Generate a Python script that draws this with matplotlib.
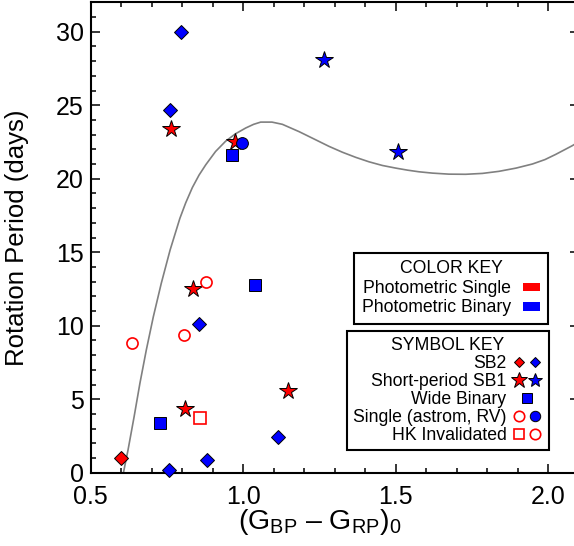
import matplotlib
matplotlib.use('Agg')
import matplotlib.pyplot as plt
import matplotlib.transforms as mtransforms
from matplotlib.lines import Line2D
from matplotlib.patches import Patch
from matplotlib.legend_handler import HandlerTuple
from matplotlib.ticker import MultipleLocator

plt.rcParams['font.family'] = ['Liberation Sans', 'DejaVu Sans']
plt.rcParams['mathtext.fontset'] = 'custom'
plt.rcParams['mathtext.rm'] = 'Liberation Sans'
plt.rcParams['mathtext.it'] = 'Liberation Sans:italic'

# SB2 (diamonds)
sb2_red_x = [0.601]
sb2_red_p = [0.98]
sb2_blue_x = [0.796, 0.760, 0.856, 1.116, 0.881, 0.757]
sb2_blue_p = [30.0, 24.7, 10.1, 2.45, 0.86, 0.18]

# short-period SB1 (stars)
sb1_red_x = [0.765, 0.974, 0.837, 1.148, 0.809]
sb1_red_p = [23.4, 22.5, 12.5, 5.56, 4.3]
sb1_blue_x = [1.266, 1.508]
sb1_blue_p = [28.1, 21.8]

# wide binaries (squares)
wide_x = [0.963, 1.038, 0.727]
wide_p = [21.6, 12.8, 3.4]

# single, blue filled circle
single_x = [0.998]
single_p = [22.4]

# HK invalidated (open red)
hk_circ_x = [0.878, 0.807, 0.635]
hk_circ_p = [13.0, 9.4, 8.85]
hk_sq_x = [0.859]
hk_sq_p = [3.7]

# gray curve
curve_x = [0.608, 0.623, 0.643, 0.662, 0.683, 0.706, 0.732, 0.761, 0.793, 0.812,
           0.834, 0.856, 0.878, 0.910, 0.943, 0.975, 1.009, 1.035, 1.058, 1.095,
           1.129, 1.151, 1.184, 1.238, 1.282, 1.326, 1.370, 1.413, 1.457, 1.501,
           1.540, 1.577, 1.621, 1.675, 1.730, 1.785, 1.839, 1.895, 1.949, 1.990,
           2.025, 2.080, 2.120]
curve_p = [0.0, 1.54, 3.81, 6.08, 8.35, 10.61, 12.88, 15.15, 17.3, 18.35,
           19.4, 20.25, 20.95, 21.85, 22.55, 23.05, 23.45, 23.7, 23.85, 23.85,
           23.7, 23.5, 23.2, 22.65, 22.2, 21.8, 21.45, 21.15, 20.9, 20.72,
           20.58, 20.47, 20.38, 20.31, 20.3, 20.36, 20.5, 20.72, 21.0, 21.3,
           21.65, 22.25, 22.75]

fig = plt.figure(figsize=(5.74, 5.46), dpi=100)
ax = fig.add_axes([90.5 / 574, 73.3 / 546, 488 / 574, 470.4 / 546])

ax.plot(curve_x, curve_p, color='#808080', lw=1.2, zorder=1)

ek = dict(markeredgecolor='black', markeredgewidth=0.7, ls='none', clip_on=False, zorder=3)
ax.plot(sb2_red_x, sb2_red_p, marker='D', ms=7, color='red', **ek)
ax.plot(sb2_blue_x, sb2_blue_p, marker='D', ms=7, color='blue', **ek)
ax.plot(wide_x, wide_p, marker='s', ms=8.3, color='blue', **ek)
ax.plot(sb1_red_x, sb1_red_p, marker='*', ms=13, color='red', **ek)
ax.plot(sb1_blue_x, sb1_blue_p, marker='*', ms=13, color='blue', **ek)
ax.plot(single_x, single_p, marker='o', ms=8.5, color='blue', **ek)
ax.plot(hk_circ_x, hk_circ_p, marker='o', ms=8, ls='none', mfc='none', mec='red',
        mew=1.2, clip_on=False, zorder=3)
ax.plot(hk_sq_x, hk_sq_p, marker='s', ms=8, ls='none', mfc='none', mec='red',
        mew=1.2, clip_on=False, zorder=3)

ax.set_xlim(0.5, 2.1)
ax.set_ylim(0, 32)
ax.xaxis.set_major_locator(MultipleLocator(0.5))
ax.xaxis.set_minor_locator(MultipleLocator(0.1))
ax.yaxis.set_major_locator(MultipleLocator(5))
ax.yaxis.set_minor_locator(MultipleLocator(1))
ax.xaxis.set_major_formatter(plt.FuncFormatter(lambda v, p: '%.1f' % v))
ax.tick_params(which='both', direction='in', top=True, right=True, width=1.1, labelsize=18)
ax.tick_params(which='major', length=6.5)
ax.tick_params(which='minor', length=3.6)
ax.tick_params(axis='x', pad=9)
ax.tick_params(axis='y', pad=5)
for s in ax.spines.values():
    s.set_linewidth(1.5)

ax.set_ylabel('Rotation Period (days)', fontsize=18.5)
ax.set_xlabel('(G$_\\mathrm{BP}$ \u2013 G$_\\mathrm{RP}$)$_0$', fontsize=20.5)
ax.xaxis.set_label_coords(0.471, -0.072)
ax.yaxis.set_label_coords(-0.125, 0.5)

lfs = 12.7
color_handles = [Patch(facecolor='red', edgecolor='none'), Patch(facecolor='blue', edgecolor='none')]
leg1 = ax.legend(color_handles, ['Photometric Single', 'Photometric Binary'],
                 title='COLOR KEY', title_fontsize=lfs, fontsize=lfs,
                 loc='upper right', bbox_to_anchor=(0.938, 0.468), borderaxespad=0,
                 markerfirst=False, fancybox=False, framealpha=1, edgecolor='black',
                 handlelength=1.0, handleheight=0.4, handletextpad=0.65,
                 labelspacing=0.12, borderpad=0.45)
leg1.get_frame().set_linewidth(1.5)
leg1._legend_box.sep = 2
ax.add_artist(leg1)

mk = dict(ls='none', markeredgecolor='black', markeredgewidth=0.7)
h_sb2 = (Line2D([], [], marker='D', ms=5.5, color='red', **mk),
         Line2D([], [], marker='D', ms=5.5, color='blue', **mk))
h_sb1 = (Line2D([], [], marker='*', ms=12, color='red', **mk),
         Line2D([], [], marker='*', ms=10, color='blue', **mk))
h_wide = (Line2D([], [], marker='s', ms=6.5, color='blue', **mk),)
h_single = (Line2D([], [], marker='o', ms=7.5, ls='none', mfc='none', mec='red', mew=1.2),
            Line2D([], [], marker='o', ms=7.5, color='blue', **mk))
h_hk = (Line2D([], [], marker='s', ms=7.5, ls='none', mfc='none', mec='red', mew=1.2),
        Line2D([], [], marker='o', ms=7.5, ls='none', mfc='none', mec='red', mew=1.2))
leg2 = ax.legend([h_sb2, h_sb1, h_wide, h_single, h_hk],
                 ['SB2', 'Short-period SB1', 'Wide Binary', 'Single (astrom, RV)', 'HK Invalidated'],
                 handler_map={tuple: HandlerTuple(ndivide=None, pad=0)},
                 title='SYMBOL KEY', title_fontsize=lfs, fontsize=lfs,
                 loc='lower right', bbox_to_anchor=(0.939, 0.048), borderaxespad=0,
                 markerfirst=False, fancybox=False, framealpha=1, edgecolor='black',
                 handlelength=1.75, handletextpad=0.3, labelspacing=0.05, borderpad=0.35)
leg2.get_frame().set_linewidth(1.5)
leg2._legend_box.sep = 1

# the "0" label sits a little above its tick in the original
fig.canvas.draw()
lab0 = ax.yaxis.get_major_ticks()[0].label1
lab0.set_transform(lab0.get_transform() +
                   mtransforms.ScaledTranslation(0, 4.5 / 72, fig.dpi_scale_trans))

fig.savefig('out.png', dpi=100)
